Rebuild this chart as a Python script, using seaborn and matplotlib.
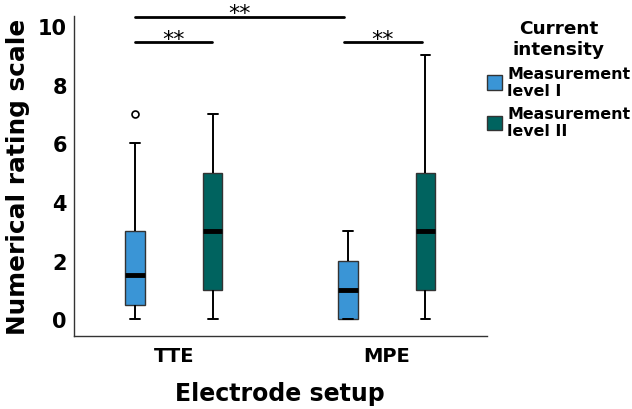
import pandas as pd
import matplotlib.pyplot as plt
import seaborn as sns
import numpy as np

# Kategoriler
setups = ['TTE', 'MPE']
levels = ['Measurement\nlevel I', 'Measurement\nlevel II']
colors = ['#3a95d6', '#00635f']

# Ölçüm değerleri (kutu istatistiklerini veren örnekler)
tte_level1 = [0, 0, 0, 1, 1, 1.5, 2, 3, 3, 6, 7]
tte_level2 = [0, 1, 1, 2, 3, 4, 5, 6, 7]
mpe_level1 = [0, 0, 0, 1, 1, 1, 2, 3, 3]
mpe_level2 = [0, 1, 1, 2, 3, 4, 5, 7, 9]

# Anlamlılık çubukları: (x1, x2, y)
sig_bars = [(-0.184, 0.80, 10.32), (-0.184, 0.18, 9.44), (0.80, 1.165, 9.44)]

rows = []
for setup, lvl, vals in [('TTE', levels[0], tte_level1), ('TTE', levels[1], tte_level2),
                         ('MPE', levels[0], mpe_level1), ('MPE', levels[1], mpe_level2)]:
    for v in vals:
        rows.append({'setup': setup, 'level': lvl, 'rating': v})
df = pd.DataFrame(rows)

sns.set_style('white')
plt.rcParams['font.family'] = ['DejaVu Sans']
plt.rcParams['text.color'] = 'black'
plt.rcParams['axes.labelcolor'] = 'black'
plt.rcParams['xtick.color'] = 'black'
plt.rcParams['ytick.color'] = 'black'

fig = plt.figure(figsize=(6.32, 4.10), dpi=100)
ax = fig.add_axes([0.117, 0.178, 0.653, 0.781])

sns.boxplot(data=df, x='setup', y='rating', hue='level', order=setups, hue_order=levels,
            palette=colors, saturation=1, width=0.73, gap=0.75, linecolor='#333333', linewidth=1,
            whiskerprops=dict(color='black', linewidth=1.4),
            capprops=dict(color='black', linewidth=1.4),
            medianprops=dict(color='black', linewidth=3.5),
            flierprops=dict(marker='o', markersize=5, markerfacecolor='white',
                            markeredgecolor='black', markeredgewidth=1.2),
            ax=ax)

ax.set_xlim(-0.47, 1.47)
ax.set_ylim(-0.57, 10.35)
ax.set_yticks(range(0, 11, 2))
sns.despine(ax=ax)
for s in ['left', 'bottom']:
    ax.spines[s].set_color('#333333')
    ax.spines[s].set_linewidth(1)
ax.tick_params(axis='y', length=3, width=1, color='#333333', labelsize=15, pad=2)
ax.tick_params(axis='x', length=0, labelsize=14, pad=7)
for lab in ax.get_xticklabels() + ax.get_yticklabels():
    lab.set_fontweight('bold')

ax.set_xlabel('Electrode setup', fontsize=17, fontweight='bold', labelpad=12)
ax.set_ylabel('Numerical rating scale', fontsize=17.8, fontweight='bold', labelpad=6)

# Anlamlılık işaretleri
for x1, x2, y in sig_bars:
    ax.plot([x1, x2], [y, y], color='black', linewidth=2, clip_on=False)
    ax.text((x1 + x2) / 2, y + 0.12, '**', ha='center', va='center', fontsize=16, clip_on=False)

sns.move_legend(ax, 'upper left', bbox_to_anchor=(1.0, 0.99), frameon=False,
                title='Current\nintensity', fontsize=11.4, title_fontsize=13.3,
                borderpad=0, borderaxespad=0, handlelength=1.0, handleheight=1.0,
                handletextpad=0.3, labelspacing=0.5)
leg = ax.get_legend()
leg.get_title().set_fontweight('bold')
leg.get_title().set_multialignment('center')
for t in leg.get_texts():
    t.set_fontweight('bold')

plt.savefig('out.png', dpi=100)
plt.close()
